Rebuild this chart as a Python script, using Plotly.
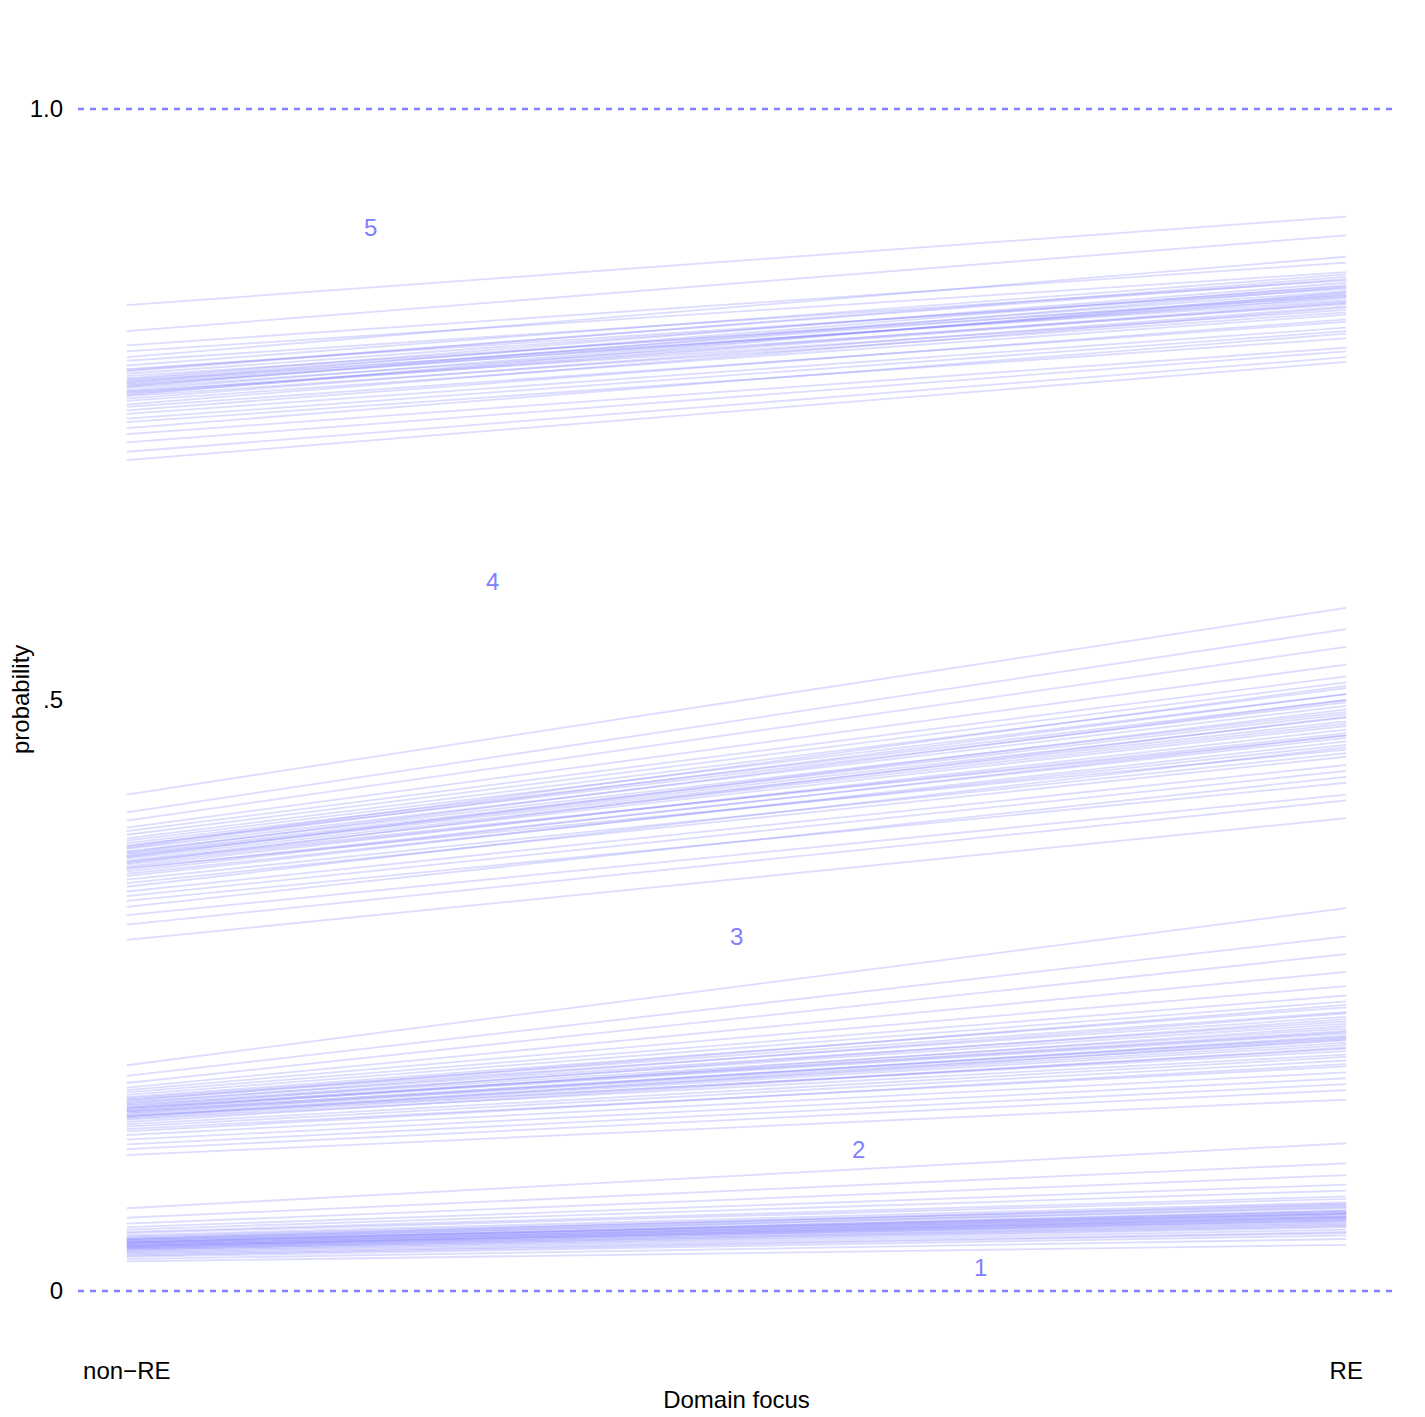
import plotly.graph_objects as go

# x positions (categories)
x_labels = ["non\u2212RE", "RE"]

# Cumulative probability draws: P(y<=k) at non-RE and at RE
band1_nonre = [0.070, 0.062, 0.057, 0.054, 0.052, 0.050, 0.049, 0.047, 0.046, 0.045,
               0.044, 0.043, 0.043, 0.042, 0.042, 0.041, 0.041, 0.040, 0.040, 0.039,
               0.039, 0.038, 0.038, 0.037, 0.037, 0.036, 0.035, 0.035, 0.034, 0.033,
               0.032, 0.031, 0.030, 0.029, 0.027, 0.025, 0.044, 0.041, 0.038, 0.036]
band1_re = [0.125, 0.108, 0.098, 0.090, 0.085, 0.080, 0.078, 0.075, 0.073, 0.072,
            0.070, 0.068, 0.071, 0.067, 0.066, 0.065, 0.068, 0.064, 0.063, 0.062,
            0.065, 0.061, 0.060, 0.062, 0.059, 0.058, 0.057, 0.056, 0.055, 0.054,
            0.052, 0.050, 0.049, 0.047, 0.044, 0.039, 0.074, 0.066, 0.063, 0.060]

band2_nonre = [0.191, 0.182, 0.176, 0.172, 0.170, 0.168, 0.166, 0.164, 0.163, 0.162,
               0.160, 0.159, 0.158, 0.157, 0.156, 0.155, 0.154, 0.153, 0.152, 0.151,
               0.150, 0.149, 0.148, 0.147, 0.146, 0.145, 0.143, 0.141, 0.139, 0.137,
               0.135, 0.132, 0.128, 0.124, 0.120, 0.115, 0.161, 0.155, 0.152, 0.148]
band2_re = [0.324, 0.300, 0.285, 0.270, 0.258, 0.250, 0.245, 0.240, 0.236, 0.232,
            0.228, 0.235, 0.226, 0.222, 0.230, 0.220, 0.218, 0.224, 0.215, 0.212,
            0.216, 0.210, 0.208, 0.213, 0.205, 0.200, 0.206, 0.198, 0.195, 0.190,
            0.192, 0.185, 0.180, 0.175, 0.170, 0.162, 0.242, 0.219, 0.214, 0.203]

band3_nonre = [0.420, 0.405, 0.398, 0.392, 0.389, 0.386, 0.383, 0.381, 0.379, 0.377,
               0.375, 0.374, 0.372, 0.371, 0.370, 0.369, 0.367, 0.366, 0.364, 0.362,
               0.361, 0.359, 0.357, 0.355, 0.353, 0.351, 0.348, 0.345, 0.342, 0.338,
               0.334, 0.330, 0.325, 0.318, 0.310, 0.297, 0.376, 0.368, 0.363, 0.358]
band3_re = [0.578, 0.560, 0.545, 0.530, 0.520, 0.515, 0.510, 0.505, 0.500, 0.498,
            0.505, 0.495, 0.490, 0.500, 0.488, 0.485, 0.492, 0.480, 0.478, 0.486,
            0.472, 0.475, 0.468, 0.470, 0.462, 0.465, 0.455, 0.452, 0.460, 0.445,
            0.440, 0.430, 0.435, 0.420, 0.415, 0.400, 0.512, 0.482, 0.470, 0.458]

band4_nonre = [0.834, 0.812, 0.800, 0.795, 0.790, 0.787, 0.783, 0.780, 0.778, 0.776,
               0.774, 0.772, 0.771, 0.770, 0.769, 0.768, 0.767, 0.765, 0.764, 0.762,
               0.761, 0.760, 0.758, 0.757, 0.755, 0.753, 0.750, 0.748, 0.745, 0.742,
               0.738, 0.735, 0.730, 0.725, 0.718, 0.710, 0.703, 0.779, 0.766, 0.759]
band4_re = [0.909, 0.893, 0.870, 0.862, 0.875, 0.855, 0.860, 0.848, 0.858, 0.850,
            0.842, 0.853, 0.846, 0.838, 0.851, 0.844, 0.840, 0.849, 0.835, 0.843,
            0.830, 0.837, 0.845, 0.828, 0.833, 0.826, 0.832, 0.820, 0.822, 0.815,
            0.812, 0.806, 0.810, 0.798, 0.795, 0.790, 0.786, 0.856, 0.841, 0.836]

# Category labels
cat_labels = ["1", "2", "3", "4", "5"]
cat_label_x = [0.7, 0.6, 0.5, 0.3, 0.2]
cat_label_y = [0.02, 0.12, 0.30, 0.60, 0.90]

y_tickvals = [0, 0.5, 1.0]
y_ticktext = ["0", ".5", "1.0"]

LINE_COLOR = "rgba(128,128,255,0.28)"
MAIN = "#8080ff"
FONT = "Liberation Sans, Arial, Helvetica, sans-serif"

fig = go.Figure()
bands = [(band1_nonre, band1_re), (band2_nonre, band2_re),
         (band3_nonre, band3_re), (band4_nonre, band4_re)]
for starts, ends in bands:
    for a, b in zip(starts, ends):
        fig.add_trace(go.Scatter(x=[0, 1], y=[a, b], mode="lines",
                                 line=dict(color=LINE_COLOR, width=1.8),
                                 hoverinfo="skip", showlegend=False))

for lab, lx, ly in zip(cat_labels, cat_label_x, cat_label_y):
    fig.add_annotation(x=lx, y=ly, text=lab, showarrow=False,
                       font=dict(color=MAIN, size=24, family=FONT))

# y-axis title as a rotated annotation
fig.add_annotation(x=-0.044, y=0.5, xref="paper", yref="paper", text="probability",
                   textangle=-90, showarrow=False, xanchor="center", yanchor="middle",
                   font=dict(color="black", size=24, family=FONT))

for yv in [0, 1]:
    fig.add_shape(type="line", xref="paper", yref="y", x0=0, x1=1, y0=yv, y1=yv,
                  line=dict(color=MAIN, width=2.5, dash="6px,6px"))

fig.update_layout(
    width=1425, height=1417,
    margin=dict(l=78, r=30, t=50, b=67, autoexpand=False),
    paper_bgcolor="white", plot_bgcolor="white",
    font=dict(family=FONT, size=24, color="black"),
    showlegend=False,
)
fig.update_xaxes(range=[-0.04, 1.04], tickvals=[0, 1], ticktext=x_labels,
                 showgrid=False, zeroline=False, showline=False, ticks="",
                 ticklabelstandoff=4, automargin=False,
                 title=dict(text="Domain focus", standoff=8, font=dict(size=24)))
fig.update_yaxes(range=[-0.0499, 1.0499], tickvals=y_tickvals, ticktext=y_ticktext,
                 showgrid=False, zeroline=False, showline=False, ticks="",
                 ticklabelstandoff=14, automargin=False)

fig.write_html("out.html")
